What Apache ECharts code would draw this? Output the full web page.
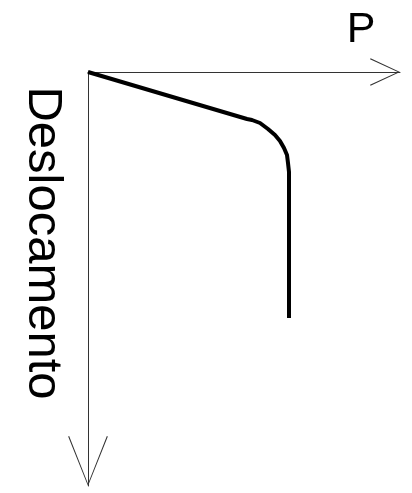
<!DOCTYPE html>
<html>
<head>
<meta charset="utf-8">
<script src="https://cdn.jsdelivr.net/npm/echarts@6/dist/echarts.min.js"></script>
<style>
  html, body { margin: 0; padding: 0; background: #fff; }
  #chart { width: 412px; height: 493px; }
</style>
</head>
<body>
<div id="chart"></div>
<script>
// carga P (eixo horizontal) e deslocamento (eixo vertical, para baixo)
const loadP = [0, 159, 164, 172, 180, 187, 192, 196, 199, 200, 201, 201]
const displacement = [0, 47, 48, 51, 57, 63, 69, 76, 83, 91, 100, 246]

const xName = 'P'
const yName = 'Deslocamento'

const chart = echarts.init(document.getElementById('chart'))

// setas abertas (chevron fino), ponta para cima no sistema do símbolo
const arrowX = 'path://M0,30 L14,0 L28,30 L27,30.6 L14,2.2 L1,30.6 Z'
const arrowY = 'path://M0,50 L20,0 L40,50 L39,50.4 L20,2.2 L1,50.4 Z'

const data = loadP.map((p, i) => [p, displacement[i]])

const option = {
  animation: false,
  grid: { left: 88, top: 72, width: 312, height: 414 },
  xAxis: {
    type: 'value',
    min: 0,
    max: 312,
    axisLine: {
      show: true,
      lineStyle: { color: '#333', width: 1 },
      symbol: ['none', arrowX],
      symbolSize: [28, 30],
      symbolOffset: [0, -15]
    },
    axisTick: { show: false },
    axisLabel: { show: false },
    splitLine: { show: false }
  },
  yAxis: {
    type: 'value',
    inverse: true,
    min: 0,
    max: 414,
    axisLine: {
      show: true,
      lineStyle: { color: '#333', width: 1 },
      // com inverse a seta de baixo é o "start"
      symbol: [arrowY, 'none'],
      symbolSize: [40, 50],
      symbolOffset: [25, 0]
    },
    axisTick: { show: false },
    axisLabel: { show: false },
    splitLine: { show: false }
  },
  graphic: [
    {
      type: 'text',
      x: 361,
      y: 52,
      style: {
        text: xName,
        font: '43px "Liberation Sans", Arial, sans-serif',
        fill: '#000',
        align: 'center',
        verticalAlign: 'bottom'
      }
    },
    {
      type: 'text',
      x: 43,
      y: 243,
      rotation: -Math.PI / 2,
      style: {
        text: yName,
        font: '49px "Liberation Sans", Arial, sans-serif',
        fill: '#000',
        align: 'center',
        verticalAlign: 'middle'
      }
    }
  ],
  series: [
    {
      type: 'line',
      data: data,
      symbol: 'none',
      smooth: false,
      lineStyle: { color: '#000', width: 4 }
    }
  ]
}

chart.setOption(option)
</script>
</body>
</html>
